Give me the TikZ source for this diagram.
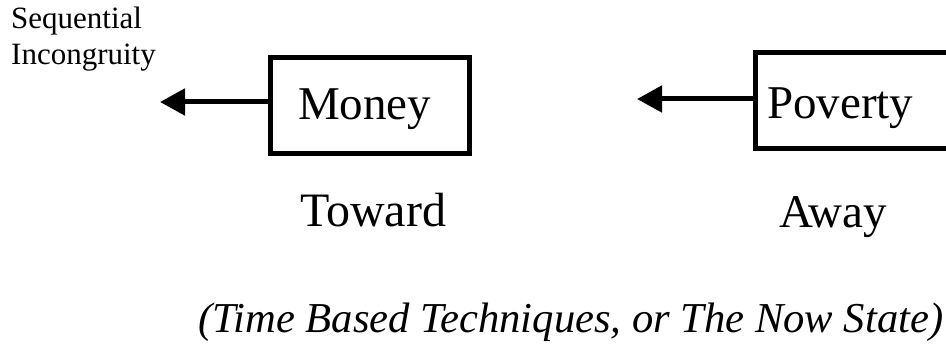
\documentclass[tikz,border=0pt]{standalone}
\usepackage{fontspec}
\setmainfont{Liberation Serif}
\usetikzlibrary{arrows.meta}

\tikzset{
  wordbox/.style={draw, line width=5pt, rectangle, align=left,
    font=\fontsize{47}{56}\selectfont},
  pointer/.style={line width=5pt, -{Triangle[length=25pt,width=26pt]}},
  caption/.style={inner sep=0pt, anchor=base west,
    font=\fontsize{47}{56}\selectfont},
}

\begin{document}
\begin{tikzpicture}[x=1pt,y=-1pt]
  \useasboundingbox (0,0) rectangle (946,347);

  % side label for the left arrow
  \node[inner sep=0pt, anchor=north west, align=left,
        font=\fontsize{31}{36}\selectfont] (seq) at (11,6.5)
        {Sequential\\Incongruity};

  % the two framed words
  \node[wordbox, minimum width=199pt, minimum height=96pt,
        text width=144pt, inner xsep=27.5pt,
        text height=35pt, text depth=6pt] (money) at (370,105.5) {Money};
  \node[wordbox, minimum width=200pt, minimum height=96.5pt,
        text width=176pt, inner xsep=12pt,
        text height=43pt, text depth=6.5pt] (poverty) at (855,100.75) {Poverty};

  % arrow tips
  \coordinate (mtip) at (160,102);
  \coordinate (ptip) at (637,99);
  \draw[pointer] (money.west |- mtip) -- (mtip);
  \draw[pointer] (poverty.west |- ptip) -- (ptip);

  % directions under the boxes
  \node[caption, font=\fontsize{48}{56}\selectfont] (toward) at (300,227) {Toward};
  \node[caption] (away) at (779,228) {Away};

  % closing remark
  \node[caption, font=\fontsize{42.6}{50}\selectfont\itshape] (note) at (198,333)
        {(Time Based Techniques, or The Now State)};
\end{tikzpicture}
\end{document}
